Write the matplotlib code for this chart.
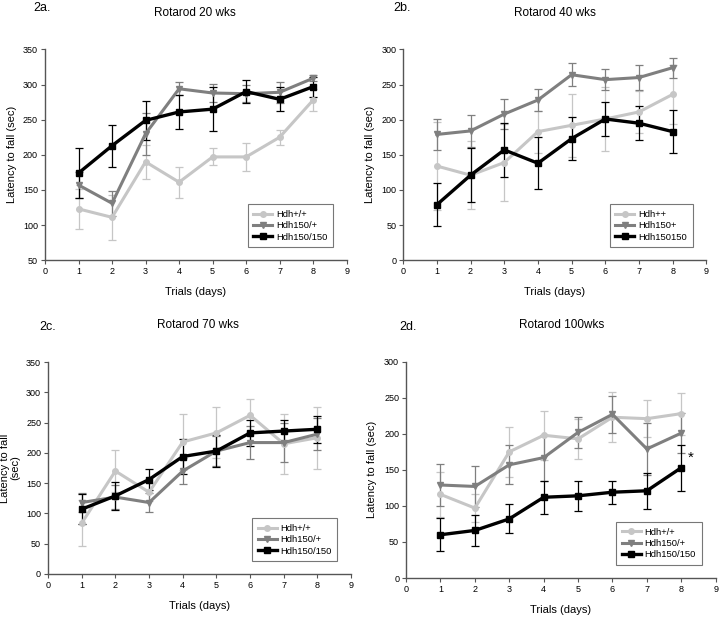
import matplotlib
matplotlib.use("Agg")
import matplotlib.pyplot as plt

plt.rcParams['font.family'] = ['Liberation Sans', 'DejaVu Sans']

days = [1, 2, 3, 4, 5, 6, 7, 8]

# Panel 2a: Rotarod 20 wks
a_wt = [123, 111, 190, 161, 197, 197, 225, 278]
a_wt_err = [29, 32, 24, 22, 12, 20, 11, 16]
a_het = [157, 131, 230, 294, 288, 287, 289, 309]
a_het_err = [18, 18, 30, 9, 13, 12, 15, 4]
a_hom = [174, 213, 249, 261, 265, 290, 279, 297]
a_hom_err = [35, 30, 28, 24, 31, 16, 17, 14]

# Panel 2b: Rotarod 40 wks
b_wt = [134, 121, 139, 183, 192, 201, 211, 236]
b_wt_err = [62, 48, 55, 30, 45, 45, 30, 42]
b_het = [179, 184, 208, 228, 264, 257, 260, 274]
b_het_err = [22, 23, 21, 16, 16, 15, 18, 14]
b_hom = [79, 121, 157, 138, 173, 201, 195, 183]
b_hom_err = [31, 38, 38, 37, 31, 24, 24, 31]

# Panel 2c: Rotarod 70 wks
c_wt = [84, 170, 135, 218, 233, 262, 215, 225]
c_wt_err = [38, 35, 15, 46, 42, 27, 50, 51]
c_het = [118, 127, 118, 170, 203, 217, 217, 231]
c_het_err = [15, 20, 15, 21, 25, 27, 32, 27]
c_hom = [107, 129, 156, 194, 203, 233, 236, 239]
c_hom_err = [25, 23, 17, 29, 26, 22, 18, 22]

# Panel 2d: Rotarod 100wks
d_wt = [116, 97, 175, 198, 193, 223, 221, 228]
d_wt_err = [31, 20, 35, 34, 28, 35, 26, 29]
d_het = [129, 127, 157, 167, 202, 227, 179, 201]
d_het_err = [29, 28, 27, 32, 22, 26, 36, 28]
d_hom = [60, 66, 82, 112, 114, 119, 121, 153]
d_hom_err = [23, 21, 20, 23, 21, 16, 25, 32]

labels_a = ['Hdh+/+', 'Hdh150/+', 'Hdh150/150']
labels_b = ['Hdh++', 'Hdh150+', 'Hdh150150']

W, H = 720.0, 618.0

panels = [
    dict(pos=[0.0625, 0.579, 0.419, 0.341], tag='2a.', title='Rotarod 20 wks',
         tagxy=(33, 2), titlexy=(195, 12.5),
         data=[(a_wt, a_wt_err), (a_het, a_het_err), (a_hom, a_hom_err)],
         ylim=(50, 350), yt=range(50, 351, 50), labels=labels_a,
         ylabel='Latency to fall (sec)'),
    dict(pos=[0.560, 0.579, 0.421, 0.341], tag='2b.', title='Rotarod 40 wks',
         tagxy=(393, 2), titlexy=(555, 12.5),
         data=[(b_wt, b_wt_err), (b_het, b_het_err), (b_hom, b_hom_err)],
         ylim=(0, 300), yt=range(0, 301, 50), labels=labels_b,
         ylabel='Latency to fall (sec)'),
    dict(pos=[0.0667, 0.0712, 0.421, 0.343], tag='2c.', title='Rotarod 70 wks',
         tagxy=(39, 321), titlexy=(198, 325),
         data=[(c_wt, c_wt_err), (c_het, c_het_err), (c_hom, c_hom_err)],
         ylim=(0, 350), yt=range(0, 351, 50), labels=labels_a,
         ylabel='Latency to fall\n(sec)'),
    dict(pos=[0.564, 0.0647, 0.430, 0.350], tag='2d.', title='Rotarod 100wks',
         tagxy=(399, 321), titlexy=(562, 325),
         data=[(d_wt, d_wt_err), (d_het, d_het_err), (d_hom, d_hom_err)],
         ylim=(0, 300), yt=range(0, 301, 50), labels=labels_a,
         ylabel='Latency to fall (sec)'),
]

colors = ['#c6c6c6', '#7f7f7f', '#000000']
markers = ['o', 'v', 's']
lws = [2.2, 2.2, 2.4]

fig = plt.figure(figsize=(7.2, 6.18), dpi=100)

for p in panels:
    ax = fig.add_axes(p['pos'])
    handles = []
    for (vals, errs), col, mk, lw, lab in zip(p['data'], colors, markers, lws, p['labels']):
        cont = ax.errorbar(days, vals, yerr=errs, color=col, marker=mk, markersize=4,
                           lw=lw, elinewidth=0.9, capsize=3, capthick=0.9, label=lab)
        handles.append(cont[0])
    ax.set_xlim(0, 9)
    ax.set_ylim(*p['ylim'])
    ax.set_xticks(range(0, 10))
    ax.set_yticks(list(p['yt']))
    for s in ['top', 'right']:
        ax.spines[s].set_visible(False)
    for s in ['left', 'bottom']:
        ax.spines[s].set_color('#555555')
        ax.spines[s].set_linewidth(1.0)
    ax.tick_params(labelsize=6.5, length=3, width=0.8, color='#555555', pad=2)
    ax.set_xlabel('Trials (days)', fontsize=8, labelpad=8)
    ax.set_ylabel(p['ylabel'], fontsize=8, linespacing=1.0)
    ax.yaxis.set_label_coords(-0.093, 0.5)
    tx, ty = p['titlexy']
    fig.text(tx / W, 1 - ty / H, p['title'], fontsize=8.5, ha='center', va='center')
    gx, gy = p['tagxy']
    fig.text(gx / W, 1 - gy / H, p['tag'], fontsize=9, ha='left', va='top')
    leg = ax.legend(handles, p['labels'], loc='lower right', fontsize=6.8, frameon=True,
                    fancybox=False, edgecolor='#555555', handlelength=2.0,
                    borderpad=0.6, labelspacing=0.25, handletextpad=0.4,
                    bbox_to_anchor=(0.97, 0.038))
    leg.get_frame().set_linewidth(0.8)
    if p['tag'] == '2d.':
        ax.text(8.27, 167, '*', fontsize=11, ha='center', va='center')

fig.savefig('out.png', dpi=100)
